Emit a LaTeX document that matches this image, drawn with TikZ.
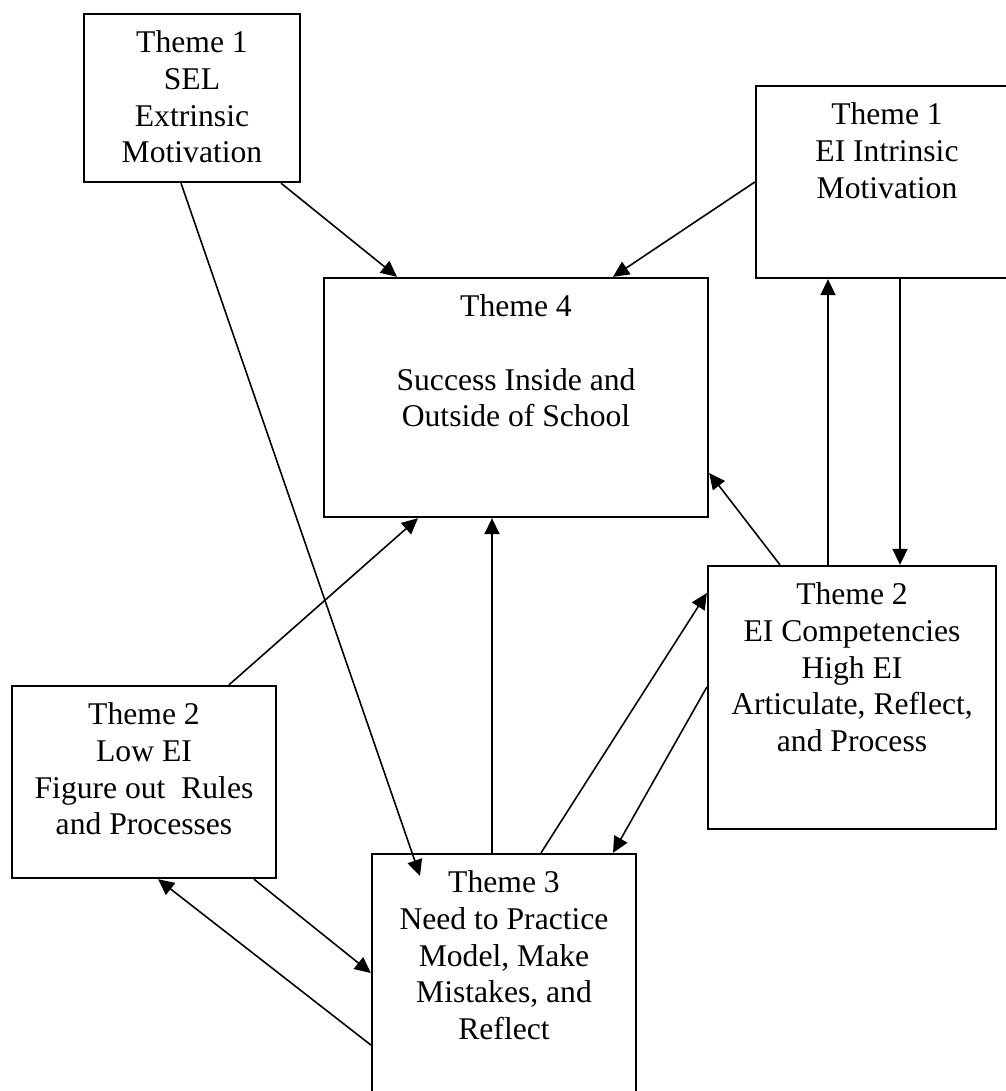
\documentclass[tikz,border=0pt]{standalone}
\usepackage{fontspec}
\setmainfont{Liberation Serif}
\usetikzlibrary{arrows.meta,positioning,calc}

\begin{document}
\begin{tikzpicture}[x=0.02cm,y=-0.02cm,
        themebox/.style={draw=black,line width=1.35pt,rectangle,inner sep=0pt},
        themetxt/.style={align=center,inner sep=0pt,font=\fontsize{18}{20.9}\selectfont},
        link/.style={draw=black,line width=0.9pt,-{Triangle[length=0.32cm,width=0.3cm]}}]
    \useasboundingbox (0,0) rectangle (1006,1091);
    \node[themebox,minimum width=4.32cm,minimum height=3.36cm] (selbox) at (192,98) {};
    \node[themebox,minimum width=5.24cm,minimum height=3.84cm] (eibox) at (887,182) {};
    \node[themebox,minimum width=7.68cm,minimum height=4.78cm] (succbox) at (516,397.5) {};
    \node[themebox,minimum width=5.76cm,minimum height=5.26cm] (highbox) at (852,697.5) {};
    \node[themebox,minimum width=5.28cm,minimum height=3.84cm] (lowbox) at (144,782) {};
    \node[themebox,minimum width=5.28cm,minimum height=5.12cm] (practbox) at (504,982) {};

    \node[themetxt,below=0.35cm of selbox.north] (seltxt) {Theme 1\\SEL\\Extrinsic\\Motivation};
    \node[themetxt,below=0.35cm of eibox.north] (eitxt) {Theme 1\\EI Intrinsic\\Motivation};
    \node[themetxt,below=0.35cm of succbox.north] (succtxt) {Theme 4\\[20.9pt]Success Inside and\\Outside of School};
    \node[themetxt,below=0.35cm of highbox.north] (hightxt) {Theme 2\\EI Competencies\\High EI\\Articulate, Reflect,\\and Process};
    \node[themetxt,below=0.35cm of lowbox.north] (lowtxt) {Theme 2\\Low EI\\Figure out~ Rules\\and Processes};
    \node[themetxt,below=0.35cm of practbox.north] (practtxt) {Theme 3\\Need to Practice\\Model, Make\\Mistakes, and\\Reflect};

    \draw[link] ($(selbox.south)+(89,0)$) -- ($(succbox.north)+(-119,0)$);
    \draw[link] (eibox.west) -- ($(succbox.north)+(97,0)$);
    \draw[link] ($(selbox.south)+(-11,0)$) -- ($(practbox.north)+(-84,23)$);
    \draw[link] ($(lowbox.north)+(85,0)$) -- ($(succbox.south)+(-98,0)$);
    \draw[link] ($(practbox.north)+(-12,0)$) -- ($(succbox.south)+(-24,0)$);
    \draw[link] ($(highbox.north)+(-72,0)$) -- ($(succbox.east)+(0,75.5)$);
    \draw[link] ($(highbox.north)+(-24,0)$) -- ($(eibox.south)+(-59,0)$);
    \draw[link] ($(eibox.south)+(13,0)$) -- ($(highbox.north)+(48,0)$);
    \draw[link] ($(practbox.north)+(37,0)$) -- ($(highbox.west)+(0,-104.5)$);
    \draw[link] ($(highbox.west)+(0,-10.5)$) -- ($(practbox.north)+(109,0)$);
    \draw[link] ($(lowbox.south)+(110,0)$) -- ($(practbox.west)+(0,-9)$);
    \draw[link] ($(practbox.west)+(0,63)$) -- ($(lowbox.south)+(14,0)$);
\end{tikzpicture}
\end{document}
